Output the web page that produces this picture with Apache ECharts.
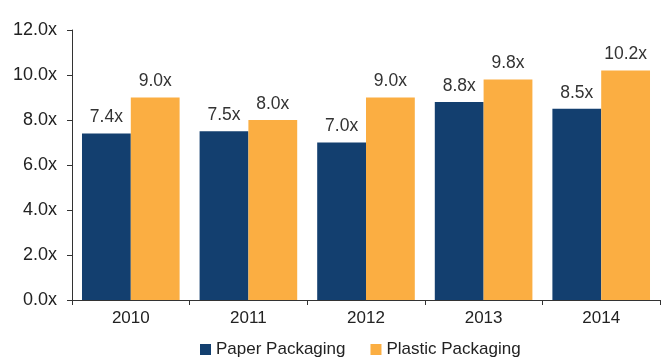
<!DOCTYPE html>
<html><head><meta charset="utf-8">
<script src="https://cdn.jsdelivr.net/npm/echarts@6/dist/echarts.min.js"></script>
<style>html,body{margin:0;padding:0;background:#fff}#c{width:669px;height:360px}</style>
</head><body><div id="c"></div>
<script>
const categories = ['2010','2011','2012','2013','2014'];
const paper = [7.4, 7.5, 7.0, 8.8, 8.5];
const plastic = [9.0, 8.0, 9.0, 9.8, 10.2];
const yTicks = [0, 2, 4, 6, 8, 10, 12];
const FONT = '"Liberation Sans Narrow", "Liberation Sans", Arial, sans-serif';
const chart = echarts.init(document.getElementById('c'));
const lbl = {show:true, position:'top', distance:7, color:'#333', fontFamily:FONT, fontSize:17.5, formatter: p => p.value.toFixed(1)+'x'};
chart.setOption({
  animation:false,
  textStyle:{fontFamily:FONT},
  grid:{left:72, right:9, top:30, bottom:60, containLabel:false},
  legend:{top:336, left:195, padding:5, itemWidth:11, itemHeight:11, itemGap:25, icon:'rect',
    textStyle:{fontFamily:FONT, fontSize:17, color:'#222', padding:[0,0,0,0]}, data:['Paper Packaging','Plastic Packaging']},
  xAxis:{type:'category', data:categories,
    axisLine:{lineStyle:{color:'#333', width:1}},
    axisTick:{show:true, length:5, lineStyle:{color:'#333'}},
    axisLabel:{color:'#222', fontSize:17, fontFamily:FONT, margin:10}},
  yAxis:{type:'value', min:yTicks[0], max:yTicks[yTicks.length-1], interval:2,
    splitLine:{show:false},
    axisLine:{show:true, lineStyle:{color:'#333', width:1}},
    axisTick:{show:true, length:5, lineStyle:{color:'#333'}},
    axisLabel:{color:'#222', fontSize:18, fontFamily:FONT, margin:15, formatter: v => v.toFixed(1)+'x'}},
  series:[
    {name:'Paper Packaging', type:'bar', data:paper, barGap:'0%', barCategoryGap:'17%', itemStyle:{color:'#133F6F'}, label:lbl},
    {name:'Plastic Packaging', type:'bar', data:plastic, barGap:'0%', barCategoryGap:'17%', itemStyle:{color:'#FBAE42'}, label:lbl}
  ]
});
</script></body></html>
